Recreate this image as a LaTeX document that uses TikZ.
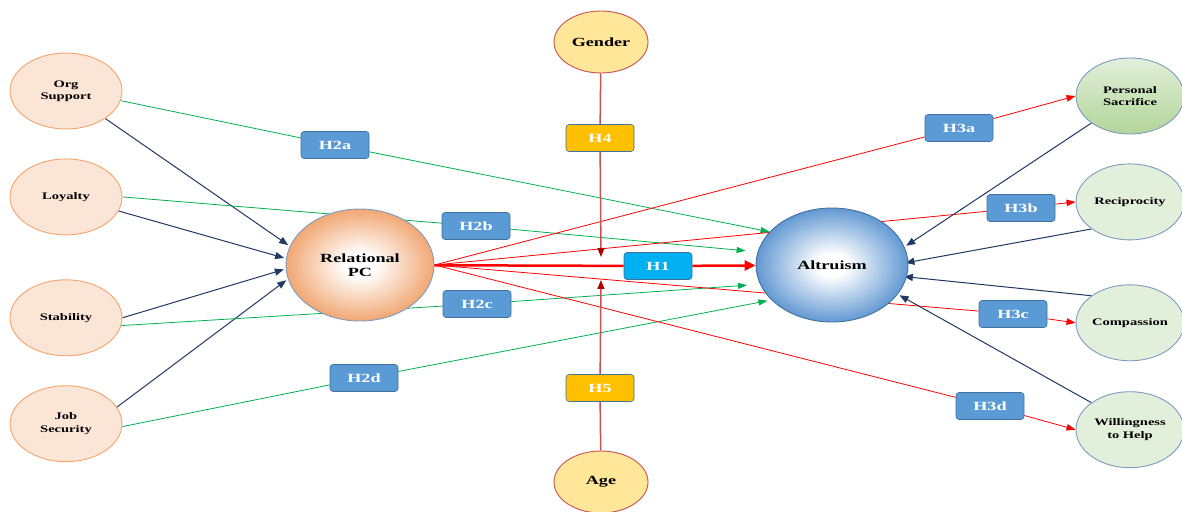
\documentclass[tikz,border=0pt]{standalone}
\usepackage{fontspec}
\setmainfont{Liberation Serif}[FakeStretch=1.45]
\usepackage{tikz}
\usetikzlibrary{shapes.geometric,arrows.meta,positioning,backgrounds}
\definecolor{cpeach}{HTML}{FBE5D6}
\definecolor{corange}{HTML}{F4A46C}
\definecolor{crpc}{HTML}{EF9A5E}
\definecolor{cblue}{HTML}{5B9BD5}
\definecolor{cblued}{HTML}{41719C}
\definecolor{caltr}{HTML}{4A89CC}
\definecolor{cyel}{HTML}{FFE699}
\definecolor{cgold}{HTML}{FFC000}
\definecolor{ccyan}{HTML}{00B0F0}
\definecolor{clgreen}{HTML}{E2EFDA}
\definecolor{cmgreen}{HTML}{B2D59A}
\definecolor{cgreen}{HTML}{00B050}
\definecolor{cnavy}{HTML}{1F3864}
\definecolor{cmodr}{HTML}{C8524E}
\definecolor{cmodd}{HTML}{B00000}
\definecolor{cgrayb}{HTML}{7E9CC0}
\pgfdeclareradialshading{rpcshade}{\pgfpointorigin}{color(0bp)=(white); color(5bp)=(white); color(28bp)=(crpc); color(50bp)=(crpc)}
\pgfdeclareradialshading{altshade}{\pgfpointorigin}{color(0bp)=(white); color(5bp)=(white); color(28bp)=(caltr); color(50bp)=(caltr)}

\begin{document}
\begin{tikzpicture}[x=1pt,y=1pt,
  lat/.style={ellipse,draw=corange,line width=0.9pt,fill=cpeach,minimum width=112pt,minimum height=76pt,inner sep=0pt,align=center,font=\fontsize{10}{12.3}\selectfont\bfseries},
  rlat/.style={ellipse,draw=cgrayb,line width=0.9pt,fill=clgreen,minimum width=108pt,minimum height=76pt,inner sep=0pt,align=center,font=\fontsize{10}{12.3}\selectfont\bfseries},
  core/.style={ellipse,draw=cgrayb,line width=0.9pt,inner sep=0pt,align=center,font=\fontsize{12.5}{14.3}\selectfont\bfseries},
  mod/.style={ellipse,draw=cmodr,line width=0.9pt,fill=cyel,minimum width=94pt,minimum height=62pt,inner sep=0pt,font=\fontsize{12.5}{14}\selectfont\bfseries},
  hyp/.style={rectangle,rounded corners=3pt,draw=cblued,line width=0.6pt,fill=cblue,text=white,minimum width=68pt,minimum height=27pt,inner sep=0pt,font=\fontsize{12.5}{14}\selectfont\bfseries},
  narr/.style={-{Triangle[length=9pt,width=7pt]},line width=1pt,cnavy,shorten >=2pt},
  garr/.style={-{Triangle[length=9pt,width=6pt]},line width=0.8pt,cgreen},
  rarr/.style={-{Triangle[length=9pt,width=6.5pt]},line width=0.8pt,red},
  marr/.style={-{Triangle[length=9pt,width=7pt,color=cmodd]},line width=1.5pt,cmodr}]

  \useasboundingbox (0,0) rectangle (1182,-511);

  % antecedentes
  \node[lat] (org) at (66,-91) {Org\\Support};
  \node[lat,below=29pt of org] (loy) {Loyalty};
  \node[lat,below=44pt of loy] (stab) {Stability};
  \node[lat,below=29pt of stab] (job) {Job\\Security};

  % constructos centrales
  \node[core,shading=rpcshade,minimum width=148pt,minimum height=112pt] (rpc) at (360,-265) {Relational\\PC};
  \node[core,draw=cblued,shading=altshade,minimum width=152pt,minimum height=114pt] (alt) at (832,-265) {Altruism};

  % moderadores
  \node[mod] (gen) at (601,-42) {Gender};
  \node[mod] (age) at (601,-482) {Age};

  % dimensiones de altruismo
  \node[rlat,top color=clgreen,bottom color=cmgreen] (ps) at (1130,-96) {Personal\\Sacrifice};
  \node[rlat,below=29pt of ps] (rec) {Reciprocity};
  \node[rlat,below=44pt of rec] (com) {Compassion};
  \node[rlat,below=30pt of com] (wil) {Willingness\\to Help};

  % hipotesis
  \node[hyp] (h2a) at (335,-145) {H2a};
  \node[hyp] (h2b) at (476,-226) {H2b};
  \node[hyp] (h2c) at (477,-304) {H2c};
  \node[hyp] (h2d) at (364,-378) {H2d};
  \node[hyp,fill=cgold] (h4) at (600,-138) {H4};
  \node[hyp,fill=cgold] (h5) at (600,-388) {H5};
  \node[hyp,fill=ccyan] (h1) at (658,-266) {H1};
  \node[hyp] (h3a) at (959,-128) {H3a};
  \node[hyp] (h3b) at (1021,-208) {H3b};
  \node[hyp] (h3c) at (1013,-314) {H3c};
  \node[hyp] (h3d) at (990,-406) {H3d};
  \coordinate (m4) at (601,-257);
  \coordinate (m5) at (601,-280);

  \begin{scope}[on background layer]
    \fill[white] (0,0) rectangle (1182,-511);
    % antecedentes -> relational pc
    \draw[narr] (org.-35) -- (rpc.165);
    \draw[narr] (loy.-15) -- (rpc.175);
    \draw[narr] (stab.east) -- (rpc.183);
    \draw[narr] (job.18) -- (rpc.191);
    % antecedentes -> altruism
    \draw[garr] (org.-10) -- (h2a) -- (alt.152);
    \draw[garr,shorten >=12pt] (loy.east) -- (h2b) -- (alt.170);
    \draw[garr,shorten >=13pt] (stab.-8) -- (h2c) -- (alt.195);
    \draw[garr,shorten >=4pt] (job.-3) -- (h2d) -- (alt.210);
    % relational pc -> altruism y dimensiones
    \draw[rarr,line width=2.5pt,-{Triangle[length=11pt,width=10pt]}] (rpc) -- (h1) -- (alt);
    \draw[rarr] (rpc.east) -- (h3a) -- (ps.west);
    \draw[rarr] (rpc.east) -- (h3b) -- (rec.west);
    \draw[rarr] (rpc.east) -- (h3c) -- (com.west);
    \draw[rarr] (rpc.east) -- (h3d) -- (wil.west);
    % dimensiones -> altruism
    \draw[narr] (ps.215) -- (alt.14);
    \draw[narr,shorten >=-3pt] (rec.215) -- (alt.2);
    \draw[narr,shorten >=-3pt] (com.145) -- (alt.-9);
    \draw[narr] (wil.145) -- (alt.-24);
    % moderacion
    \draw[marr] (gen) -- (h4) -- (m4);
    \draw[marr] (age) -- (h5) -- (m5);
  \end{scope}
\end{tikzpicture}
\end{document}
